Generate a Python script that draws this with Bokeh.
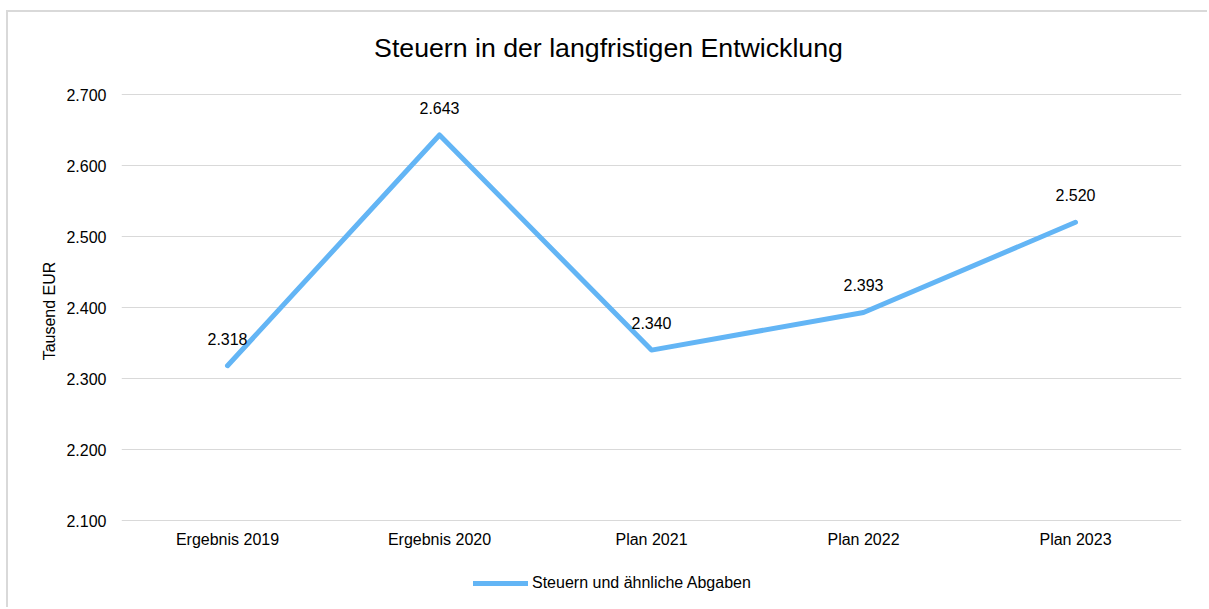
from bokeh.plotting import figure
from bokeh.models import ColumnDataSource, Label, Legend, LegendItem, CustomJSTickFormatter, FixedTicker, Range1d
from bokeh.core.properties import value
from bokeh.embed import file_html
from bokeh.resources import INLINE

categories = ["Ergebnis 2019", "Ergebnis 2020", "Plan 2021", "Plan 2022", "Plan 2023"]
values = [2318, 2643, 2340, 2393, 2520]
y_ticks = [2100, 2200, 2300, 2400, 2500, 2600, 2700]
title_text = "Steuern in der langfristigen Entwicklung"
series_name = "Steuern und ähnliche Abgaben"
y_label = "Tausend EUR"

def de_fmt(v):
    s = str(int(round(v)))
    return s[:-3] + "." + s[-3:] if len(s) > 3 else s

labels = [de_fmt(v) for v in values]
FONT = "Liberation Sans"
FS = "16px"
LINE_COLOR = "#63b5f5"

# layout: the frame fills the canvas height; the tick span 2100..2700 covers 426 px,
# with 82 px of room above it (title) and 89 px below it (category labels, legend)
CANVAS_H = 597
px_per_unit = 426 / (y_ticks[-1] - y_ticks[0])
y_top = y_ticks[-1] + 82 / px_per_unit
y_start = y_ticks[0] - 89 / px_per_unit

src = ColumnDataSource(dict(x=categories, y=values, lab=labels))

p = figure(x_range=categories, y_range=Range1d(y_start, y_top), width=1201, height=CANVAS_H,
           output_backend="svg", toolbar_location=None,
           min_border_left=113, min_border_right=28, min_border_top=0, min_border_bottom=0,
           styles={"border-left": "2px solid #d9d9d9", "border-top": "2px solid #d9d9d9",
                   "margin-left": "6px", "margin-top": "10px"})
p.outline_line_color = None
p.background_fill_color = "white"
p.border_fill_color = "white"

r = p.line("x", "y", source=src, line_color=LINE_COLOR, line_width=5, line_cap="round", line_join="round")
p.text("x", "y", text="lab", source=src, y_offset=-27, text_align="center", text_baseline="middle",
       text_font=value(FONT), text_font_size=FS, text_color="#000000")

p.xgrid.grid_line_color = None
p.ygrid.grid_line_color = "#d9d9d9"
p.ygrid.grid_line_width = 1.2
p.yaxis.ticker = FixedTicker(ticks=y_ticks)
p.yaxis.formatter = CustomJSTickFormatter(code="""
const s = Math.round(tick).toString();
return s.length > 3 ? s.slice(0, -3) + '.' + s.slice(-3) : s;
""")
p.xaxis.fixed_location = y_ticks[0]
for ax in (p.xaxis[0], p.yaxis[0]):
    ax.axis_line_color = None
    ax.major_tick_line_color = None
    ax.minor_tick_line_color = None
    ax.major_tick_in = 0
    ax.major_tick_out = 0
    ax.major_label_text_font = FONT
    ax.major_label_text_font_size = FS
    ax.major_label_text_color = "#000000"
p.yaxis.major_label_standoff = 15
p.xaxis.major_label_standoff = 10
p.yaxis.axis_label = y_label
p.yaxis.axis_label_text_font = FONT
p.yaxis.axis_label_text_font_size = FS
p.yaxis.axis_label_text_font_style = "normal"
p.yaxis.axis_label_text_color = "#000000"
p.yaxis.axis_label_standoff = 5

title = Label(x=487, y=CANVAS_H - 35, x_units="screen", y_units="screen", text=title_text,
              text_align="center", text_baseline="middle", text_font=FONT,
              text_font_size="26.7px", text_color="#000000")
p.add_layout(title)

legend = Legend(items=[LegendItem(label=series_name, renderers=[r])], location=(352, 17),
                orientation="horizontal", glyph_width=55, glyph_height=18, label_standoff=4,
                padding=0, margin=0, border_line_color=None, background_fill_alpha=0,
                label_text_font=FONT, label_text_font_size=FS, label_text_color="#000000")
p.add_layout(legend)

open("out.html", "w").write(file_html(p, INLINE))
